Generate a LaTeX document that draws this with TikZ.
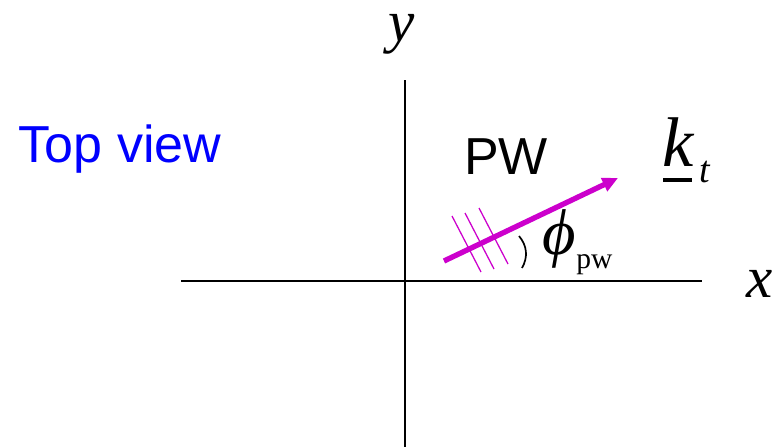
\RequirePackage{fix-cm}
\documentclass[tikz,border=0pt]{standalone}
\usepackage{fontspec}
\setmainfont{Liberation Serif}
\setsansfont{Liberation Sans}
\usepackage{tikz}
\usetikzlibrary{arrows.meta, positioning, calc}
\definecolor{WaveMagenta}{RGB}{204,0,204}
\definecolor{LabelBlue}{RGB}{0,0,255}
\tikzset{
  % axes
  axis/.style={line width=1.6pt, black},
  % plane-wave direction
  kvec/.style={-{Triangle[length=11pt,width=10pt]}, line width=3.8pt, WaveMagenta},
  front/.style={line width=0.9pt, WaveMagenta},
  % labels
  axlabel/.style={font=\fontsize{42}{44}\selectfont\itshape, inner sep=0pt},
  sublabel/.style={font=\fontsize{21}{23}\selectfont, inner sep=0pt},
  sflabel/.style={font=\sffamily\fontsize{37}{40}\selectfont, inner sep=0pt},
}

\begin{document}
\begin{tikzpicture}[x=0.025cm, y=-0.025cm]
  \useasboundingbox (0,0) rectangle (781,447);

  %% ---- AXES ----
  \coordinate (xl) at (181,281);
  \coordinate (xr) at (702,281);
  \coordinate (yt) at (405,80);
  \coordinate (yb) at (405,447);
  \draw[axis] (xl) -- (xr);
  \draw[axis] (yt) -- (yb);
  \node[axlabel] (xlab) at (760,284) {x};
  \node[axlabel, anchor=base, text height=1ex] (ylab) at (402,41) {y};

  %% ---- LABELS ----
  \node[sflabel, text=LabelBlue] (view) at (120,149) {Top view};
  \node[sflabel] (pw) at (506,157) {PW};

  %% ---- WAVE ----
  \coordinate (k0) at (444,261);
  \coordinate (k1) at (618,178);
  \draw[kvec] (k0) -- (k1);
  \foreach \dx/\dy in {0/0, 13/-3, 27/-8}{
    \coordinate (f0) at ($(452,216)+(\dx,\dy)$);
    \coordinate (f1) at ($(481,272)+(\dx,\dy)$);
    \draw[front] (f0) -- (f1);
  }
  \node[axlabel, anchor=base west, font=\fontsize{50}{52}\selectfont\itshape]
    (kk) at (662,166) {k};
  \node[sublabel, font=\fontsize{27}{29}\selectfont\itshape, anchor=base west]
    (ksub) at ([shift={(5,16)}]kk.base east) {t};
  \draw[line width=2.2pt] ([shift={(1,14)}]kk.base west) -- ([shift={(-2,14)}]kk.base east);

  %% angle
  \coordinate (a0) at (519,236);
  \coordinate (a1) at (522,268);
  \draw[line width=1.2pt] (a0) to[bend left=35] (a1);
  \node[axlabel, anchor=base west, font=\fontsize{46}{48}\selectfont\itshape]
    (phi) at (542,254) {ϕ};
  \node[sublabel, anchor=base west] (phisub) at ([shift={(0,14)}]phi.base east) {pw};
\end{tikzpicture}
\end{document}
